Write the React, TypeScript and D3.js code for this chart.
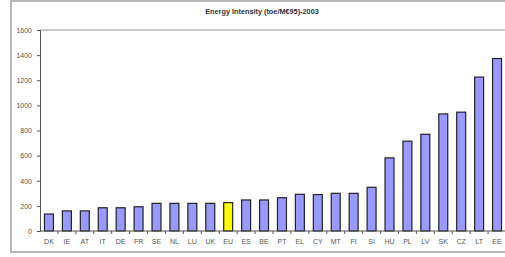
import React, { useEffect, useRef } from "react";
import * as d3 from "d3";

// energy intensity by country, 2003
const countries = ["DK", "IE", "AT", "IT", "DE", "FR", "SE", "NL", "LU", "UK", "EU", "ES", "BE", "PT", "EL", "CY", "MT", "FI", "SI", "HU", "PL", "LV", "SK", "CZ", "LT", "EE"];
const values = [135, 160, 160, 185, 185, 193, 220, 220, 220, 220, 226, 247, 247, 265, 292, 290, 300, 300, 348, 582, 715, 770, 932, 946, 1225, 1373];
const yTicks = [0, 200, 400, 600, 800, 1000, 1200, 1400, 1600];
const highlight = "EU";

export default function App() {
  const ref = useRef<SVGSVGElement>(null);

  useEffect(() => {
    const svg = d3.select(ref.current);
    svg.selectAll("*").remove();

    const W = 505;
    const H = 257;
    const margin = { top: 30, left: 40 };
    const plotH = 231 - margin.top;
    const font = "Arial, 'Liberation Sans', sans-serif";

    svg.attr("width", W).attr("height", H);

    // outer chart frame
    svg.append("rect")
      .attr("x", 11).attr("y", 1)
      .attr("width", W + 10).attr("height", 251)
      .attr("fill", "white")
      .attr("stroke", "#b8b8b8")
      .attr("stroke-width", 2);

    svg.append("text")
      .attr("x", 262).attr("y", 14)
      .attr("text-anchor", "middle")
      .attr("font-family", font)
      .attr("font-size", 7.3)
      .attr("font-weight", "bold")
      .attr("fill", "#333")
      .text("Energy Intensity (toe/M€95)-2003");

    const x = d3.scaleBand<string>()
      .domain(countries)
      .range([margin.left, 506])
      .paddingInner(0.5)
      .paddingOuter(0.25);

    const y = d3.scaleLinear().domain([0, 1600]).range([margin.top + plotH, margin.top]);

    // plot area top border
    svg.append("line")
      .attr("x1", margin.left).attr("x2", W)
      .attr("y1", y(1600)).attr("y2", y(1600))
      .attr("stroke", "#999").attr("stroke-width", 1);

    const g = svg.append("g");

    g.selectAll("rect.bar")
      .data(countries)
      .enter()
      .append("rect")
      .attr("class", "bar")
      .attr("x", (d) => x(d)!)
      .attr("y", (d, i) => y(values[i]))
      .attr("width", x.bandwidth())
      .attr("height", (d, i) => y(0) - y(values[i]))
      .attr("fill", (d) => (d === highlight ? "#ffff00" : "#9999ff"))
      .attr("stroke", "#222")
      .attr("stroke-width", 1.2);

    // y axis
    const yAxis = svg.append("g")
      .attr("transform", `translate(${margin.left},0)`)
      .call(d3.axisLeft(y).tickValues(yTicks).tickFormat(d3.format("d")).tickSize(3).tickPadding(5));
    yAxis.select(".domain").attr("stroke", "#555");
    yAxis.selectAll(".tick line").attr("stroke", "#555");
    yAxis.selectAll("text")
      .attr("font-family", font)
      .attr("font-size", 7)
      .attr("fill", "#555");

    // x axis
    const step = x.step();
    const base = y(0);
    svg.append("line")
      .attr("x1", margin.left).attr("x2", W)
      .attr("y1", base).attr("y2", base)
      .attr("stroke", "#555");

    svg.selectAll("line.xtick")
      .data(countries.slice(0, -1))
      .enter()
      .append("line")
      .attr("class", "xtick")
      .attr("x1", (d) => x(d)! + x.bandwidth() / 2 + step / 2)
      .attr("x2", (d) => x(d)! + x.bandwidth() / 2 + step / 2)
      .attr("y1", base).attr("y2", base + 3)
      .attr("stroke", "#555");

    svg.selectAll("text.xlab")
      .data(countries)
      .enter()
      .append("text")
      .attr("class", "xlab")
      .attr("x", (d) => x(d)! + x.bandwidth() / 2)
      .attr("y", base + 13)
      .attr("text-anchor", "middle")
      .attr("font-family", font)
      .attr("font-size", 7)
      .attr("fill", "#555")
      .text((d) => d);
  }, []);

  return (
    <div style={{ position: "absolute", left: 0, top: 0 }}>
      <svg ref={ref} style={{ display: "block" }} />
    </div>
  );
}
